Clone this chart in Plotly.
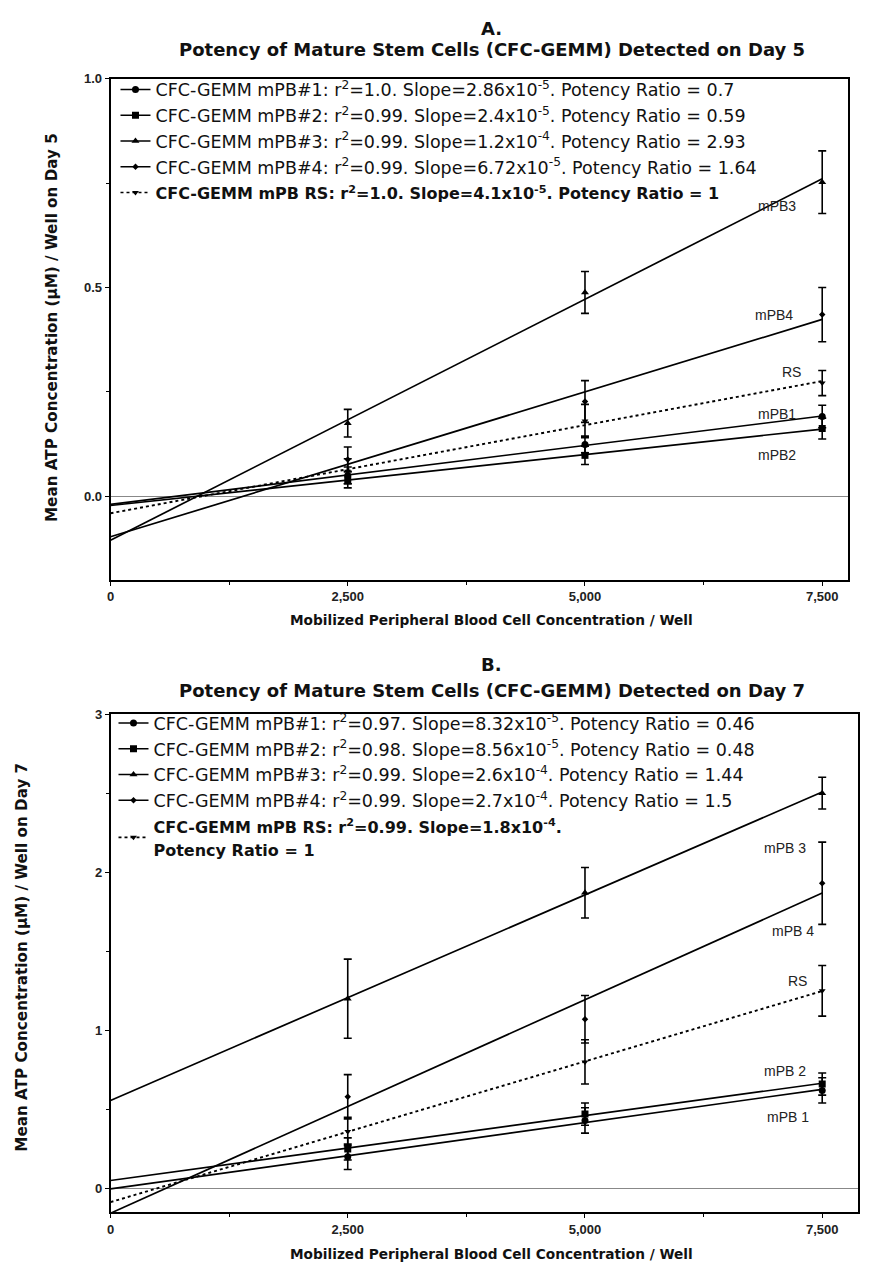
import numpy as np
import plotly.graph_objects as go

W, H = 876, 1266

# ---------------- data ----------------
x_conc = [2500, 5000, 7500]
x_ticks = [0, 2500, 5000, 7500]

# Panel A (Day 5)
a_mpb1 = [0.05, 0.124, 0.191]
a_mpb1_err = [0.02, 0.02, 0.027]
a_mpb2 = [0.04, 0.098, 0.162]
a_mpb2_err = [0.02, 0.022, 0.025]
a_mpb3 = [0.175, 0.488, 0.752]
a_mpb3_err = [0.033, 0.05, 0.075]
a_mpb4 = [0.088, 0.227, 0.435]
a_mpb4_err = [0.03, 0.05, 0.065]
a_rs = [0.06, 0.18, 0.271]
a_rs_err = [0.03, 0.04, 0.03]

# Panel B (Day 7)
b_mpb1 = [0.20, 0.43, 0.62]
b_mpb1_err = [0.08, 0.08, 0.08]
b_mpb2 = [0.25, 0.47, 0.66]
b_mpb2_err = [0.07, 0.07, 0.07]
b_mpb3 = [1.20, 1.87, 2.50]
b_mpb3_err = [0.25, 0.16, 0.10]
b_mpb4 = [0.58, 1.07, 1.93]
b_mpb4_err = [0.14, 0.15, 0.26]
b_rs = [0.36, 0.80, 1.25]
b_rs_err = [0.09, 0.14, 0.16]

RSB = '<span style="font-size:16px"><b>'
RSE = '</b></span>'
a_legend = [
    "CFC-GEMM mPB#1: r<sup>2</sup>=1.0. Slope=2.86x10<sup>-5</sup>. Potency Ratio = 0.7",
    "CFC-GEMM mPB#2: r<sup>2</sup>=0.99. Slope=2.4x10<sup>-5</sup>. Potency Ratio = 0.59",
    "CFC-GEMM mPB#3: r<sup>2</sup>=0.99. Slope=1.2x10<sup>-4</sup>. Potency Ratio = 2.93",
    "CFC-GEMM mPB#4: r<sup>2</sup>=0.99. Slope=6.72x10<sup>-5</sup>. Potency Ratio = 1.64",
    RSB + "CFC-GEMM mPB RS: r<sup>2</sup>=1.0. Slope=4.1x10<sup>-5</sup>. Potency Ratio = 1" + RSE,
]
b_legend = [
    "CFC-GEMM mPB#1: r<sup>2</sup>=0.97. Slope=8.32x10<sup>-5</sup>. Potency Ratio = 0.46",
    "CFC-GEMM mPB#2: r<sup>2</sup>=0.98. Slope=8.56x10<sup>-5</sup>. Potency Ratio = 0.48",
    "CFC-GEMM mPB#3: r<sup>2</sup>=0.99. Slope=2.6x10<sup>-4</sup>. Potency Ratio = 1.44",
    "CFC-GEMM mPB#4: r<sup>2</sup>=0.99. Slope=2.7x10<sup>-4</sup>. Potency Ratio = 1.5",
    RSB + "CFC-GEMM mPB RS: r<sup>2</sup>=0.99. Slope=1.8x10<sup>-4</sup>." + RSE
    + "<br>" + RSB + "Potency Ratio = 1" + RSE,
]
a_labels = ["mPB1", "mPB2", "mPB3", "mPB4", "RS"]
a_label_pos = [(7020, 0.198), (7020, 0.098), (7020, 0.695), (6990, 0.433), (7175, 0.298)]
b_labels = ["mPB 1", "mPB 2", "mPB 3", "mPB 4", "RS"]
b_label_pos = [(7144, 0.45), (7113, 0.74), (7113, 2.15), (7197, 1.63), (7238, 1.31)]

symbols = ["circle", "square", "triangle-up", "diamond", "triangle-down"]
msizes = [7, 7, 7, 5, 6]
dashes = ["solid", "solid", "solid", "solid", "dot"]

# ---------------- figure ----------------
fig = go.Figure()
SANS = "DejaVu Sans, Liberation Sans, Arial"
REG = "Liberation Sans, Arial"


def add_panel(series, errs, legend_texts, labels, label_pos, xa, ya, legname):
    for i, (ys, es) in enumerate(zip(series, errs)):
        k, b = np.polyfit(x_conc, ys, 1)
        xl = [0, 7500]
        yl = [b, k * 7500 + b]
        fig.add_trace(go.Scatter(
            x=xl, y=yl, mode="lines", xaxis=xa, yaxis=ya,
            line=dict(color="black", width=1.7 if dashes[i] == "solid" else 1.9, dash=dashes[i]),
            showlegend=False, hoverinfo="skip"))
        fig.add_trace(go.Scatter(
            x=x_conc, y=ys, mode="markers", xaxis=xa, yaxis=ya,
            marker=dict(symbol=symbols[i], size=msizes[i], color="black"),
            error_y=dict(type="data", array=es, visible=True, color="black", thickness=1.6, width=4),
            showlegend=False))
        fig.add_trace(go.Scatter(
            x=[None], y=[None], mode="lines+markers", xaxis=xa, yaxis=ya,
            line=dict(color="black", width=1.6, dash=dashes[i]),
            marker=dict(symbol=symbols[i], size=msizes[i], color="black"),
            name=legend_texts[i], legend=legname, showlegend=True))
    for lab, (lx, ly) in zip(labels, label_pos):
        fig.add_annotation(x=lx, y=ly, xref=xa, yref=ya, text=lab,
                           showarrow=False, font=dict(family=REG, size=14, color="#222"),
                           xanchor="center", yanchor="middle")


def py(p):
    return 1 - p / H


def px(p):
    return p / W


add_panel([a_mpb1, a_mpb2, a_mpb3, a_mpb4, a_rs],
          [a_mpb1_err, a_mpb2_err, a_mpb3_err, a_mpb4_err, a_rs_err],
          a_legend, a_labels, a_label_pos, "x", "y", "legend")
add_panel([b_mpb1, b_mpb2, b_mpb3, b_mpb4, b_rs],
          [b_mpb1_err, b_mpb2_err, b_mpb3_err, b_mpb4_err, b_rs_err],
          b_legend, b_labels, b_label_pos, "x2", "y2", "legend2")

axis_common = dict(showline=True, linecolor="black", linewidth=1.6, mirror=True,
                   showgrid=False, ticks="outside", ticklen=4, tickcolor="black",
                   tickfont=dict(family=REG, size=13, color="#222", weight="bold"))

xax = dict(axis_common, tickvals=x_ticks, tickformat=",d",
           minor=dict(tickvals=[1250, 3750, 6250], ticks="outside", ticklen=3, tickcolor="black"),
           zeroline=False)

legend_font = dict(family=SANS, size=17.5, color="#111")

fig.update_layout(
    width=W, height=H, margin=dict(l=0, r=0, t=0, b=0),
    paper_bgcolor="white", plot_bgcolor="white",
    xaxis=dict(xax, domain=[px(107), px(848)], range=[0, 7773], anchor="y"),
    yaxis=dict(axis_common, domain=[py(576), py(72)], range=[-0.2, 1.0],
               tickvals=[0, 0.5, 1.0], ticktext=["0.0", "0.5", "1.0"],
               minor=dict(tickvals=[0.25, 0.75], ticks="outside", ticklen=3, tickcolor="black"),
               zeroline=True, zerolinecolor="#888", zerolinewidth=1, anchor="x"),
    xaxis2=dict(xax, domain=[px(107), px(858)], range=[0, 7878], anchor="y2"),
    yaxis2=dict(axis_common, domain=[py(1212), py(711)], range=[-0.151, 3.0],
                tickvals=[0, 1, 2, 3],
                minor=dict(tickvals=[0.5, 1.5, 2.5], ticks="outside", ticklen=3, tickcolor="black"),
                zeroline=True, zerolinecolor="#888", zerolinewidth=1, anchor="x2"),
    legend=dict(x=px(112), y=py(65), xanchor="left", yanchor="top",
                bgcolor="rgba(0,0,0,0)", font=legend_font,
                itemwidth=30, tracegroupgap=0, itemclick=False),
    legend2=dict(x=px(110), y=py(702), xanchor="left", yanchor="top",
                 bgcolor="rgba(0,0,0,0)", font=legend_font,
                 itemwidth=30, tracegroupgap=0, itemclick=False),
    showlegend=True,
)

title_font = dict(family=SANS, size=18, color="#111", weight="bold")
xtitle_font = dict(family=SANS, size=13.7, color="#111", weight="bold")
ytitle_font = dict(family=SANS, size=15.2, color="#111", weight="bold")

texts = [
    ("A.", 490, 22, 0, title_font),
    ("Potency of Mature Stem Cells (CFC-GEMM) Detected on Day 5", 490, 43, 0, title_font),
    ("Mobilized Peripheral Blood Cell Concentration / Well", 490, 616, 0, xtitle_font),
    ("B.", 490, 661, 0, title_font),
    ("Potency of Mature Stem Cells (CFC-GEMM) Detected on Day 7", 490, 687, 0, title_font),
    ("Mobilized Peripheral Blood Cell Concentration / Well", 490, 1254, 0, xtitle_font),
    ("Mean ATP Concentration (\u03bcM) / Well on Day 5", 48, 322, -90, ytitle_font),
    ("Mean ATP Concentration (\u03bcM) / Well on Day 7", 18, 955, -90, ytitle_font),
]
for t, x, y, ang, f in texts:
    fig.add_annotation(x=px(x), y=py(y), xref="paper", yref="paper", text=t,
                       showarrow=False, textangle=ang, font=f,
                       xanchor="center", yanchor="middle")

fig.write_html("out.html", config={"displayModeBar": False},
               post_script="document.body.style.margin='0';")
